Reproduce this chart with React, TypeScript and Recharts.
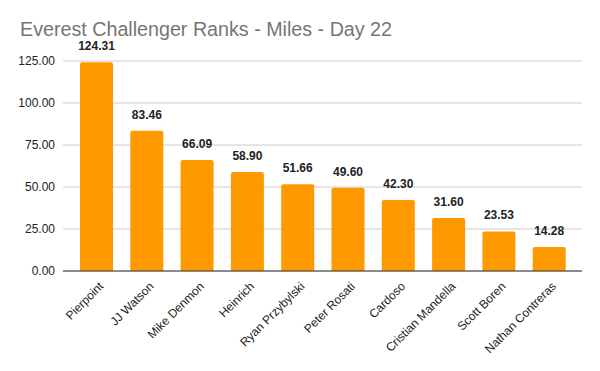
import { BarChart, Bar, XAxis, YAxis, CartesianGrid, LabelList } from 'recharts';

const runners = [
  'Pierpoint',
  'JJ Watson',
  'Mike Denmon',
  'Heinrich',
  'Ryan Przybylski',
  'Peter Rosati',
  'Cardoso',
  'Cristian Mandella',
  'Scott Boren',
  'Nathan Contreras',
];
const miles = [124.31, 83.46, 66.09, 58.9, 51.66, 49.6, 42.3, 31.6, 23.53, 14.28];
const yTicks = [0, 25, 50, 75, 100, 125];

const data = runners.map((name, i) => ({ name, miles: miles[i] }));

const FONT = '"Liberation Sans", Arial, sans-serif';

function AngledTick({ x, y, payload }: { x?: number; y?: number; payload?: { value: string } }) {
  return (
    <g transform={`translate(${x},${y})`}>
      <text
        x={8}
        y={8}
        textAnchor="end"
        transform="rotate(-45, 8, 8)"
        fill="#222"
        fontSize={12}
        fontFamily={FONT}
      >
        {payload?.value}
      </text>
    </g>
  );
}

export default function App() {
  return (
    <div style={{ position: 'absolute', left: 0, top: 0, width: 600, height: 371, background: '#fff' }}>
      <div
        style={{
          position: 'absolute',
          left: 20,
          top: 18,
          fontFamily: FONT,
          fontSize: 19.7,
          color: '#757575',
          whiteSpace: 'nowrap',
        }}
      >
        Everest Challenger Ranks - Miles - Day 22
      </div>
      <BarChart
        width={600}
        height={371}
        data={data}
        margin={{ top: 61, right: 18, bottom: 0, left: 0 }}
      >
        <CartesianGrid vertical={false} stroke="#cccccc" />
        <XAxis
          dataKey="name"
          interval={0}
          height={100}
          padding={{ left: 8, right: 8 }}
          tick={<AngledTick />}
          tickLine={false}
          axisLine={{ stroke: '#333' }}
        />
        <YAxis
          width={63}
          domain={[0, 125]}
          ticks={yTicks}
          tickFormatter={(v: number) => v.toFixed(2)}
          tick={{ fill: '#222', fontSize: 12, fontFamily: FONT }}
          axisLine={false}
          tickLine={false}
        />
        <Bar dataKey="miles" fill="#ff9900" barSize={33} radius={[2, 2, 0, 0]} isAnimationActive={false}>
          <LabelList
            dataKey="miles"
            position="top"
            offset={12}
            formatter={(v: number) => v.toFixed(2)}
            fill="#222"
            fontSize={12}
            fontWeight="bold"
            fontFamily={FONT}
          />
        </Bar>
      </BarChart>
    </div>
  );
}
